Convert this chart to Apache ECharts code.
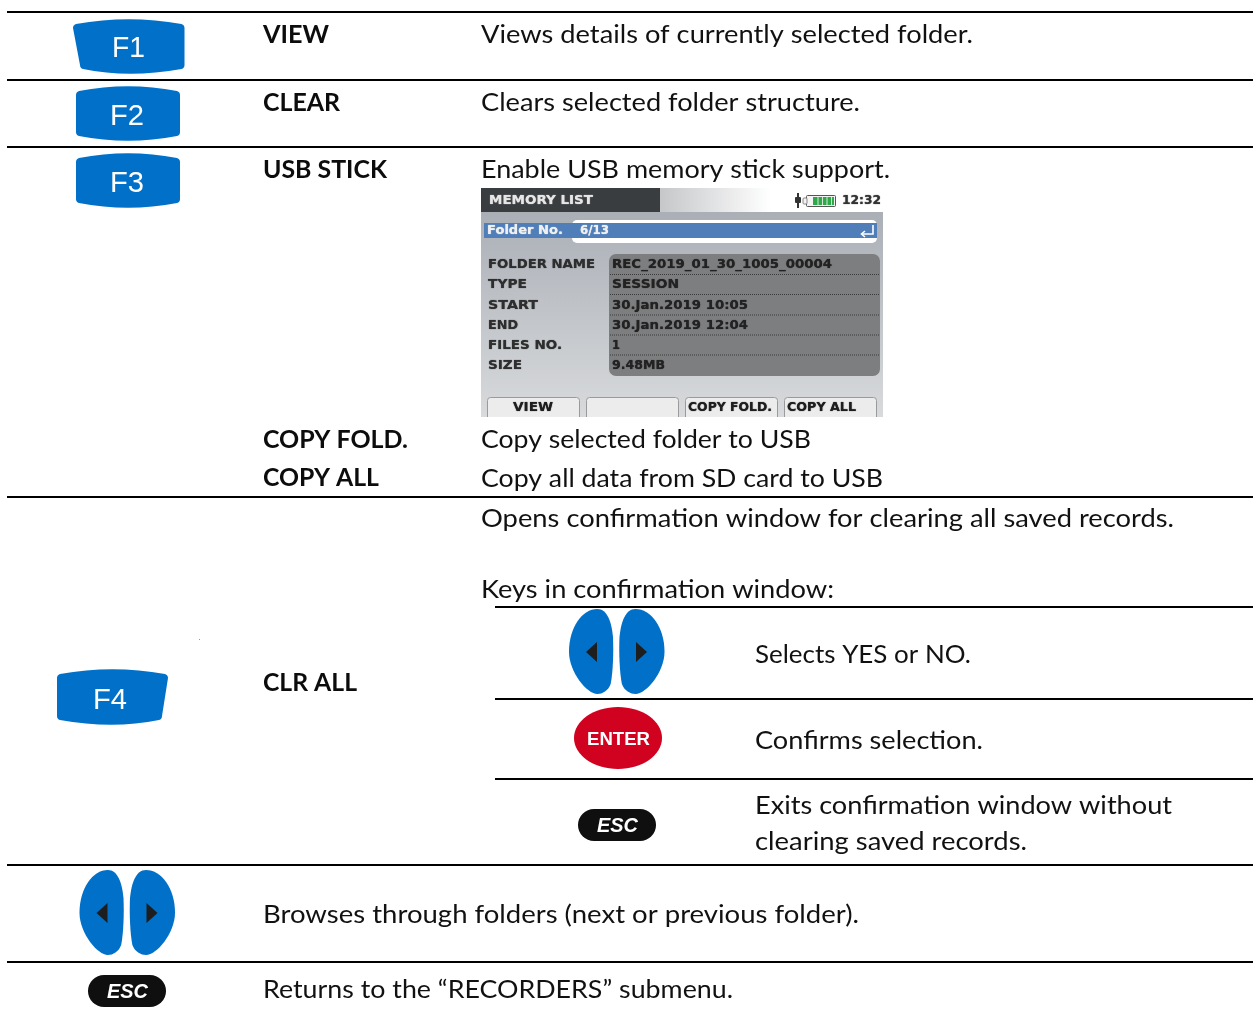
<!DOCTYPE html>
<html><head><meta charset="utf-8">
<style>html,body{margin:0;padding:0;background:#fff}#c{width:1253px;height:1011px}</style>
<script src="https://cdn.jsdelivr.net/npm/echarts@6/dist/echarts.min.js"></script>
</head><body><div id="c"></div>
<script>
const keyNames = ["VIEW", "CLEAR", "USB STICK", "COPY FOLD.", "COPY ALL", "CLR ALL"];
const keyDescriptions = [
  "Views details of currently selected folder.",
  "Clears selected folder structure.",
  "Enable USB memory stick support.",
  "Copy selected folder to USB",
  "Copy all data from SD card to USB",
  "Opens confirmation window for clearing all saved records."
];
const confirmHeading = "Keys in confirmation window:";
const confirmTexts = ["Selects YES or NO.", "Confirms selection.", "Exits confirmation window without", "clearing saved records."];
const navTexts = ["Browses through folders (next or previous folder).", "Returns to the \u201cRECORDERS\u201d submenu."];
const functionKeys = ["F1", "F2", "F3", "F4"];
const screenFieldNames = ["FOLDER NAME", "TYPE", "START", "END", "FILES NO.", "SIZE"];
const screenFieldValues = ["REC_2019_01_30_1005_00004", "SESSION", "30.Jan.2019 10:05", "30.Jan.2019 12:04", "1", "9.48MB"];
const screenButtons = ["VIEW", "", "COPY FOLD.", "COPY ALL"];
const screenTitle = "MEMORY LIST", screenClock = "12:32", screenFolderLabel = "Folder No.", screenFolderValue = "6/13";

const BLUE = "#0070C8", INK = "#000";
const els = [];
const ctx = document.createElement("canvas").getContext("2d");
let pathCount = 0;
function add(o){ o.z = els.length + 1; els.push(o); return o; }
function text(s, x, y, right, o){
  o = o || {};
  const family = o.family || "Lato", size = o.size || 25, weight = o.weight || "normal", fStyle = o.fontStyle || "normal";
  const font = fStyle + " " + weight + " " + size + "px " + family;
  ctx.font = font;
  const natural = ctx.measureText(s).width;
  add({type:"text", x:x, y:y + 1, scaleX:(right - x)/natural,
    style:{text:s, x:0, y:0, font:font, fill:o.fill || "#111", textAlign:"left", textVerticalAlign:"middle", textBaseline:"middle",
      textShadowBlur:o.blur||0, textShadowColor:o.blur?(o.fill||"#111"):"transparent"}});
}
function line(x1,y,x2,color,w,dash){
  add({type:"line", shape:{x1:x1,y1:y,x2:x2,y2:y}, style:{stroke:color||INK, lineWidth:w||2, lineDash:dash||null}});
}
function rect(x,y,w,h,fill,r,stroke){
  add({type:"rect", shape:{x:x,y:y,width:w,height:h,r:r||0}, style:{fill:fill, stroke:stroke||null, lineWidth:stroke?1:0}});
}
function path(d, fill){
  const name = "iconPath" + (pathCount++);
  echarts.graphic.registerShape(name, echarts.graphic.extendPath(d, {}));
  add({type:name, style:{fill:fill}});
}

// F-key: barrel shape, optional slanted lower-left / lower-right side
function fkey(x,y,w,h,slantL,slantR,label,lx,lr,ly){
  const c = 6, r = 3, xl=x+slantL, xr=x+w-slantR, m=x+w/2, t=y, b=y+h;
  const d = "M"+(x+r)+" "+(t+c-1)+" Q"+m+" "+(t-c+1.5)+" "+(x+w-r)+" "+(t+c-1)+
    " Q"+(x+w)+" "+(t+c)+" "+(x+w)+" "+(t+c+3)+" L"+xr+" "+(b-c-3)+" Q"+xr+" "+(b-c)+" "+(xr-3)+" "+(b-c+1)+
    " Q"+m+" "+(b+c-1.5)+" "+(xl+3)+" "+(b-c+1)+" Q"+xl+" "+(b-c)+" "+xl+" "+(b-c-3)+" L"+x+" "+(t+c+3)+" Q"+x+" "+(t+c)+" "+(x+r)+" "+(t+c-1)+" Z";
  path(d, BLUE);
  text(label, lx, ly + 1, lr, {family:"Liberation Sans", size:29, fill:"#fff"});
}
// Arrow key pair
function blob(x,y,w,h,mirror,fill){
  const X = u => (mirror ? x + w - u*w/132 : x + u*w/132).toFixed(2), Y = v => (y + v*h/255).toFixed(2);
  const p = (u,v) => X(u)+" "+Y(v);
  path("M"+p(85,0)+" C"+p(115,0)+" "+p(128,40)+" "+p(132,85)+" C"+p(134,130)+" "+p(132,190)+" "+p(125,225)+
       " C"+p(118,245)+" "+p(100,255)+" "+p(85,255)+" C"+p(55,255)+" "+p(0,190)+" "+p(0,128)+" C"+p(0,55)+" "+p(40,0)+" "+p(85,0)+" Z", fill);
}
function arrows(x,y){
  blob(x,y,44,85,false,BLUE);
  blob(x+50.5,y,45,85,true,BLUE);
  add({type:"polygon", shape:{points:[[x+17,y+43],[x+28,y+33],[x+28,y+53]]}, style:{fill:"#1e1e1e"}});
  add({type:"polygon", shape:{points:[[x+78,y+43],[x+67,y+33],[x+67,y+53]]}, style:{fill:"#1e1e1e"}});
}
function esc(x,y){
  rect(x,y,78,32,"#0f0f0f",16);
  text("ESC", x+19, y+16.5, x+60, {family:"Liberation Sans", weight:"bold", fontStyle:"italic", size:20, fill:"#fff"});
}

// rules
[12,80,147,497,865,962].forEach(y => line(7,y,1253));
[607,699,779].forEach(y => line(495,y,1253));

// key icons
fkey(73,19,111.5,55,7,0,functionKeys[0],112,145,47);
fkey(76,86,104,55,0,0,functionKeys[1],110,144,115);
fkey(76,153,104,55,0,0,functionKeys[2],110,144,182);
fkey(57,669,111,56,0,6,functionKeys[3],93,127,699);
rect(199,639,1,1,"#999");
arrows(569,609);
arrows(79.5,870);
add({type:"ellipse", shape:{cx:618,cy:738,rx:44,ry:31}, style:{fill:"#D0021F"}});
text("ENTER", 587, 739.5, 650, {family:"Liberation Sans", weight:"bold", size:18, fill:"#fff"});
esc(578,809);
esc(88,975);

// table text
const boldRows = [[263,34,329],[263,102,340],[263,169,387],[263,439,408],[263,477,379],[263,682,357]];
keyNames.forEach((s,i)=>{const r=boldRows[i]; text(s,r[0],r[1],r[2],{weight:"bold",size:25,fill:"#0c0c0c"});});
const descRows = [[481,34,973],[481,102,860],[481,169,890],[481,439,811],[481,478,883],[481,518,1174]];
keyDescriptions.forEach((s,i)=>{const r=descRows[i]; text(s,r[0],r[1],r[2]);});
text(confirmHeading,481,589,834);
const confRows = [[755,654,971],[755,740,983],[755,805,1172],[755,841,1027]];
confirmTexts.forEach((s,i)=>{const r=confRows[i]; text(s,r[0],r[1],r[2]);});
text(navTexts[0],263,914,859);
text(navTexts[1],263,989,733);

// device screenshot
const SF = "DejaVu Sans", dark = "#2e2e2e";
add({type:"rect", shape:{x:481,y:188,width:402,height:229}, style:{fill:{type:"linear",x:0,y:0,x2:0,y2:1,colorStops:[{offset:0,color:"#a5aab2"},{offset:1,color:"#d8dadc"}]}}});
add({type:"rect", shape:{x:481,y:188,width:402,height:24}, style:{fill:{type:"linear",x:0,y:0,x2:1,y2:0,colorStops:[{offset:0.44,color:"#c4c6c8"},{offset:0.72,color:"#ffffff"},{offset:1,color:"#ffffff"}]}}});
rect(481,188,179,24,"#3a3d40");
text(screenTitle,489,200,593,{family:SF,weight:"bold",size:13,fill:"#e6e6e6",blur:1});
// plug & battery
rect(797,193,2,15,"#333");
rect(795,197,6,6,"#333",1);
rect(806.5,195.5,29,11,"#f4f4f4",1,"#555");
rect(803,198,4,6,"#f4f4f4",1,"#888");
rect(813,197,21,8,"#2fa84a");
[817.5,822,826.5,831].forEach(x=>rect(x,197,1,8,"#d5e8d8"));
text(screenClock,842,200,881,{family:SF,weight:"bold",size:13,fill:"#333",blur:1});
// folder bar
rect(572,220,305,23,"#ffffff",5);
rect(484,223,393,15,"#4f7eb9");
text(screenFolderLabel,487,230,563,{family:SF,weight:"bold",size:12.5,fill:"#f0f0f0",blur:1});
text(screenFolderValue,580,230,609,{family:SF,weight:"bold",size:12,fill:"#f0f0f0",blur:1});
add({type:"polyline", shape:{points:[[873,225],[873,234],[862,234]]}, style:{stroke:"#fff",lineWidth:1.6,fill:null}});
add({type:"polyline", shape:{points:[[865,231],[861.5,234],[865,237]]}, style:{stroke:"#fff",lineWidth:1.6,fill:null}});
// panel
rect(609,254,271,122,"#7d7e7f",7);
[274.5,294.5,315,335,355].forEach(y=>line(610,y,879,"#3a3a3a",1,[1,1]));
const fieldY = [264,284,304.5,324.5,344.5,365];
const fieldNameRight = [595,527,538,518,562,522];
const fieldValueRight = [832,679,748,748,620,665];
screenFieldNames.forEach((s,i)=>text(s,488,fieldY[i],fieldNameRight[i],{family:SF,weight:"bold",size:13,fill:dark,blur:1}));
screenFieldValues.forEach((s,i)=>text(s,612,fieldY[i],fieldValueRight[i],{family:SF,weight:"bold",size:13,fill:"#222",blur:1}));
// soft keys
const btnLeft=[487,586,685,784], btnRight=[579,678,777,876];
const btnTextL=[513,0,688,787], btnTextR=[553,0,772,856];
screenButtons.forEach((s,i)=>{
  add({type:"rect", shape:{x:btnLeft[i]+.5,y:397.5,width:btnRight[i]-btnLeft[i],height:22,r:[3,3,0,0]}, style:{fill:"#ececec",stroke:"#9a9a9a",lineWidth:1}});
  if(s) text(s,btnTextL[i],406.5,btnTextR[i],{family:SF,weight:"bold",size:13,fill:"#1e1e1e",blur:1});
});
rect(481,417,402,6,"#ffffff");

const chart = echarts.init(document.getElementById("c"), null, {renderer:"canvas"});
chart.setOption({animation:false, backgroundColor:"#ffffff", graphic:{elements:els}});
</script></body></html>
